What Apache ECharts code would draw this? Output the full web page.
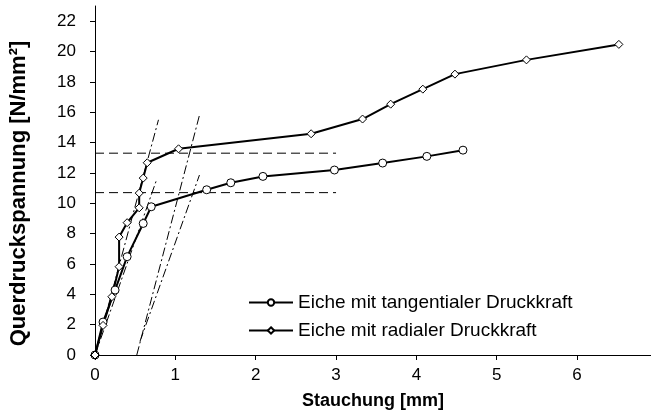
<!DOCTYPE html>
<html>
<head>
<meta charset="utf-8">
<style>
  html, body { margin: 0; padding: 0; background: #fff; }
  #chart { width: 651px; height: 418px; }
</style>
<script src="https://cdn.jsdelivr.net/npm/echarts@6/dist/echarts.min.js"></script>
</head>
<body>
<div id="chart"></div>
<script>
// Messwerte (Stauchung [mm], Querdruckspannung [N/mm²])
var tangentialX = [0, 0.10, 0.25, 0.40, 0.60, 0.70, 1.39, 1.69, 2.09, 2.98, 3.58, 4.13, 4.58];
var tangentialY = [0, 2.17, 4.28, 6.48, 8.67, 9.77, 10.89, 11.35, 11.77, 12.19, 12.65, 13.09, 13.5];
var radialX = [0, 0.10, 0.21, 0.30, 0.30, 0.40, 0.55, 0.55, 0.60, 0.65, 1.04, 2.69, 3.33, 3.68, 4.08, 4.48, 5.37, 6.52];
var radialY = [0, 1.95, 3.84, 5.82, 7.77, 8.72, 9.70, 10.67, 11.66, 12.67, 13.59, 14.58, 15.55, 16.53, 17.52, 18.51, 19.45, 20.47];

// Hilfslinien
var dashLevels = [13.3, 10.7];
var dashEndX = 3.0;
var slopeLines = [
  [[0, 0], [0.79, 15.5]],
  [[0, 0], [0.77, 11.6]],
  [[0.52, 0], [1.30, 15.8]],
  [[0.56, 0.9], [1.30, 11.86]]
];

var names = ["Eiche mit tangentialer Druckkraft", "Eiche mit radialer Druckkraft"];

function pairs(xs, ys) {
  var out = [];
  for (var i = 0; i < xs.length; i++) out.push([xs[i], ys[i]]);
  return out;
}

var series = [];
// gestrichelte Horizontalen
dashLevels.forEach(function (y) {
  series.push({
    type: "line",
    data: [[0, y], [dashEndX, y]],
    symbol: "none",
    silent: true,
    lineStyle: { color: "#000", width: 1, type: [9, 5] },
    z: 1
  });
});
// Strich-Punkt Geraden
slopeLines.forEach(function (seg) {
  series.push({
    type: "line",
    data: seg,
    symbol: "none",
    silent: true,
    lineStyle: { color: "#000", width: 1, type: [9, 3, 2, 3] },
    z: 1
  });
});
series.push({
  name: names[0],
  type: "line",
  data: pairs(tangentialX, tangentialY),
  symbol: "circle",
  symbolSize: 8,
  itemStyle: { color: "#fff", borderColor: "#000", borderWidth: 1 },
  lineStyle: { color: "#000", width: 2 },
  z: 3
});
series.push({
  name: names[1],
  type: "line",
  data: pairs(radialX, radialY),
  symbol: "diamond",
  symbolSize: 8,
  itemStyle: { color: "#fff", borderColor: "#000", borderWidth: 1 },
  lineStyle: { color: "#000", width: 2 },
  z: 3
});

var myChart = echarts.init(document.getElementById("chart"));
var option = {
  animation: false,
  textStyle: { fontFamily: "Arial, 'Liberation Sans', sans-serif", color: "#000" },
  grid: { left: 94, right: 0, top: 6, bottom: 63 },
  legend: {
    data: names,
    orient: "vertical",
    left: 248,
    top: 293,
    padding: 0,
    itemWidth: 44,
    itemHeight: 8,
    itemGap: 9,
    textStyle: { fontSize: 19, color: "#000", lineHeight: 18 }
  },
  xAxis: [
    {
      type: "value",
      min: 0,
      max: 6.92,
      interval: 1,
      name: "Stauchung [mm]",
      nameLocation: "middle",
      nameGap: 37,
      nameTextStyle: { fontSize: 18, fontWeight: "bold", color: "#000" },
      axisLine: { onZero: false, lineStyle: { color: "#000", width: 1 } },
      axisTick: { show: true, length: 5, lineStyle: { color: "#000" } },
      axisLabel: { fontSize: 17, color: "#000", margin: 12, showMaxLabel: false },
      splitLine: { show: false }
    },
    {
      type: "value",
      position: "top",
      min: 0,
      max: 6.92,
      axisLine: { show: true, lineStyle: { color: "#000", width: 1 } },
      axisTick: { show: false },
      axisLabel: { show: false },
      splitLine: { show: false }
    }
  ],
  yAxis: {
    type: "value",
    min: 0,
    max: 23,
    interval: 2,
    name: "Querdruckspannung [N/mm²]",
    nameLocation: "middle",
    nameGap: 65,
    nameTextStyle: { fontSize: 22, fontWeight: "bold", color: "#000", padding: [0, 26, 0, 0] },
    axisLine: { show: true, lineStyle: { color: "#000", width: 1 } },
    axisTick: { show: true, length: 5, lineStyle: { color: "#000" } },
    axisLabel: { fontSize: 17, color: "#000", margin: 19, showMaxLabel: false },
    splitLine: { show: false }
  },
  series: series
};
myChart.setOption(option);
</script>
</body>
</html>
